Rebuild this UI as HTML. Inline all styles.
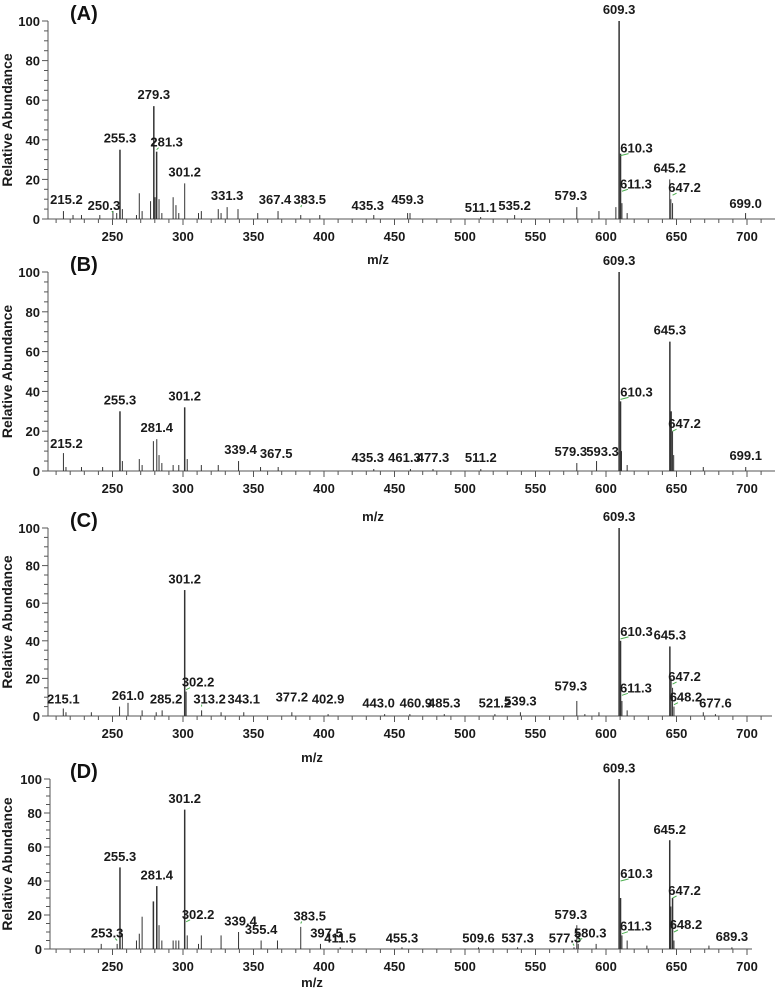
<!DOCTYPE html>
<html><head><meta charset="utf-8"><style>
body{margin:0;background:#fff;}
svg{display:block;font-family:"Liberation Sans",Arial,sans-serif;}
.t{font-weight:bold;font-size:13px;fill:#1a1a1a;}
.pl{font-weight:bold;font-size:20px;fill:#111;}
.yt{font-weight:bold;font-size:14px;fill:#1a1a1a;}
</style></head><body>
<svg id="chart" width="777" height="992" viewBox="0 0 777 992"></svg>
<script>
// ---- data ----
const xTicks = [250,300,350,400,450,500,550,600,650,700];
const yTicks = [0,20,40,60,80,100];

const mzA  = [215.2,222,228,241,250.3,253,255.3,257,267,269,271,277,279.3,280.2,281.3,283,285,293,295,297,301.2,311,313,325,327,331.3,339,353,367.4,383.5,397,435.3,459.3,461,511.1,535.2,579.3,595,607,609.3,610.3,611.3,615,645.2,646,647.2,699.0];
const intA = [4,2,2,2,4,3,35,5,2,13,4,9,57,11,34,10,3,11,7,3,18,3,4,5,3,6,5,3,4,2,2,2,3,3,1,2,6,4,6,100,33,8,3,20,10,8,3];
const labA = ["215.2","250.3","255.3","279.3","281.3","301.2","331.3","367.4","383.5","435.3","459.3","511.1","535.2","579.3","609.3","610.3","611.3","645.2","647.2","699.0"];
const labAmz = [215.2,250.3,255.3,279.3,281.3,301.2,331.3,367.4,383.5,435.3,459.3,511.1,535.2,579.3,609.3,610.3,611.3,645.2,647.2,699.0];
const labAy  = [6,3,37,59,35,20,8,6,6,3,6,2,3,8,102,32,14,22,12,4];

const mzB  = [215.2,217,228,243,255.3,257,269,271,279,281.4,283,285,293,297,301.2,303,313,325,339.4,355,367.5,435.3,461.3,477.3,511.2,579.3,593.3,609.3,610.3,611,615,645.3,646.2,647.2,648,669,699.1];
const intB = [9,2,2,2,30,5,6,3,15,16,8,4,3,3,32,6,3,3,5,2,2,1,1,1,1,4,5,100,35,10,3,65,30,20,8,2,2];
const labB = ["215.2","255.3","281.4","301.2","339.4","367.5","435.3","461.3","477.3","511.2","579.3","593.3","609.3","610.3","645.3","647.2","699.1"];
const labBmz = [215.2,255.3,281.4,301.2,339.4,367.5,435.3,461.3,477.3,511.2,579.3,593.3,609.3,610.3,645.3,647.2,699.1];
const labBy  = [10,32,18,34,7,5,3,3,3,3,6,6,102,36,67,20,4];

const mzC  = [215.1,217,235,255,261.0,271,281,285.2,301.2,302.2,313.2,327,343.1,377.2,402.9,443.0,460.9,485.3,521.2,539.3,579.3,585,595,609.3,610.3,611.3,615,645.3,646.2,647.2,648.2,669,677.6];
const intC = [4,2,2,5,7,3,2,3,67,13,3,2,2,2,1,1,1,1,1,2,8,1,2,100,40,8,3,37,20,15,5,2,1];
const labC = ["215.1","261.0","285.2","301.2","302.2","313.2","343.1","377.2","402.9","443.0","460.9","485.3","521.2","539.3","579.3","609.3","610.3","611.3","645.3","647.2","648.2","677.6"];
const labCmz = [215.1,261.0,285.2,301.2,302.2,313.2,343.1,377.2,402.9,443.0,460.9,485.3,521.2,539.3,579.3,609.3,610.3,611.3,645.3,647.2,648.2,677.6];
const labCy  = [5,7,5,69,14,5,5,6,5,3,3,3,3,4,12,102,41,11,39,17,6,3];

const mzD  = [242,253.3,255.3,257,267,269,271,279,281.4,283,285,293,295,297,301.2,303,311,313,327,339.4,355.4,367,383.5,397.5,411.5,455.3,509.6,537.3,577.3,579.3,580.3,593,609.3,610.3,611.3,615,629,645.2,646,647.2,648.2,673,689.3];
const intD = [3,3,48,9,5,9,19,28,37,14,5,5,5,5,82,8,3,8,8,10,5,5,13,3,1,1,1,1,1,14,3,3,100,30,8,5,2,64,25,30,5,2,1];
const labD = ["253.3","255.3","281.4","301.2","302.2","339.4","355.4","383.5","397.5","411.5","455.3","509.6","537.3","577.3","579.3","580.3","609.3","610.3","611.3","645.2","647.2","648.2","689.3"];
const labDmz = [253.3,255.3,281.4,301.2,302.2,339.4,355.4,383.5,397.5,411.5,455.3,509.6,537.3,577.3,579.3,580.3,609.3,610.3,611.3,645.2,647.2,648.2,689.3];
const labDy  = [5,50,39,84,16,12,7,15,5,2,2,2,2,2,16,5,102,40,9,66,30,10,3];

// ---- layout ----
const NS = "http://www.w3.org/2000/svg";
const svg = document.getElementById("chart");
function el(tag, attrs, parent){ const e=document.createElementNS(NS,tag); for(const k in attrs) e.setAttribute(k,attrs[k]); (parent||svg).appendChild(e); return e; }

const labelOffsets = {"250.3":-9,"281.3":10,"610.3":16,"611.3":14,"647.2":12,"302.2":12,"313.2":8,"648.2":12,"253.3":-10,"577.3":-9,"580.3":12,"285.2":4,"215.2":3,"339.4":2,"435.3":-6,"461.3":-6,"367.5":-2,"367.4":-3,"383.5":9,"579.3":-6,"593.3":6,"443.0":-6,"460.9":6,"397.5":6};

function drawPanel(name, letter, top, base, axX, axEnd, mzArr, intArr, labs, labMz, labY, mzLabX, mzLabY){
  const g = el("g",{});
  
  
  const xs = mz => 183 + (mz-300)*1.41;
  const ys = v => base - v*(base-top)/100;
  const pt = el("text",{x:70,y:top-1,class:"pl"},g); pt.textContent="("+letter+")";
  
  
  const yt = el("text",{x:0,y:0,class:"yt","text-anchor":"middle",transform:`translate(12,${(top+base)/2}) rotate(-90)`},g);
  yt.textContent="Relative Abundance";
  
  
  const ya = el("line",{x1:axX,y1:top,x2:axX,y2:base,stroke:"#555","stroke-width":1},g);
  
  
  const xa = el("line",{x1:axX,y1:base,x2:axEnd,y2:base,stroke:"#555","stroke-width":1},g);
  
  
  for(let v=0; v<=100; v+=5){
    const major = v%20===0;
    el("line",{x1:axX-(major?6:4),y1:ys(v),x2:axX,y2:ys(v),stroke:"#555","stroke-width":1},g);
  }
  yTicks.forEach(v=>{
    const t = el("text",{x:axX-8,y:ys(v)+5,class:"t","text-anchor":"end"},g); t.textContent=v;
    
    
  });
  for(let m=200; xs(m)<=axEnd; m+=10){
    if(xs(m)<axX+2) continue;
    el("line",{x1:xs(m),y1:base,x2:xs(m),y2:base+(m%50===0?6:4),stroke:"#555","stroke-width":1},g);
  }
  xTicks.forEach(v=>{
    const t = el("text",{x:xs(v),y:base+22,class:"t","text-anchor":"middle"},g); t.textContent=v;
    
    
  });
  const xt = el("text",{x:mzLabX,y:mzLabY,class:"t","text-anchor":"middle"},g); xt.textContent="m/z";
  
  
  mzArr.forEach((m,i)=>{
    const x = xs(m);
    const p = el("line",{x1:x,y1:base,x2:x,y2:ys(intArr[i]),stroke:"#333","stroke-width":intArr[i]>25?1.5:1},g);
    
    
  });
  labs.forEach((s,i)=>{
    const off = labelOffsets[s]||0;
    const px = xs(labMz[i]);
    const lx = px + off, ly = ys(labY[i]) - 3;
    if(Math.abs(off)>=8){
      const gl = el("line",{x1:px,y1:ly+3,x2:lx+(off>0?-8:8),y2:ly+1,stroke:"#4caf50","stroke-width":1},g);
      
      
    }
    const t = el("text",{x:lx,y:ly,class:"t","text-anchor":"middle"},g); t.textContent=s;
    
    
  });
}

drawPanel("a","A",21,219,48,775,mzA,intA,labA,labAmz,labAy,378,264);
drawPanel("b","B",272,471,48,775,mzB,intB,labB,labBmz,labBy,373,521);
drawPanel("c","C",528,716,48,772,mzC,intC,labC,labCmz,labCy,312,762);
drawPanel("d","D",779,949,50,752,mzD,intD,labD,labDmz,labDy,312,987);
</script>
</body></html>
